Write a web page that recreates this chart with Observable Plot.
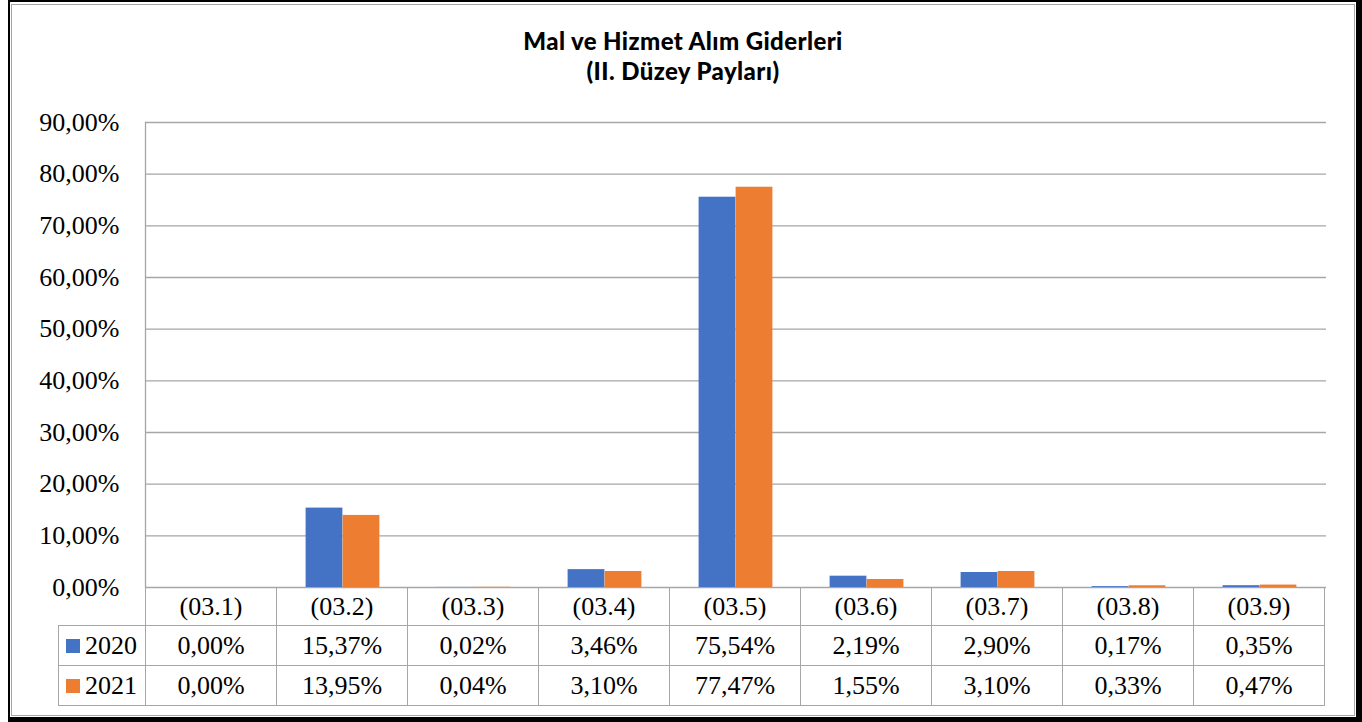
<!DOCTYPE html>
<html>
<head>
<meta charset="utf-8">
<script src="https://cdn.jsdelivr.net/npm/d3@7"></script>
<script src="https://cdn.jsdelivr.net/npm/@observablehq/plot@0.6"></script>
<style>
  html, body { margin: 0; padding: 0; background: #fff; }
  #wrap { position: relative; width: 1362px; height: 722px; overflow: hidden; background: #fff; }
  #outer { position: absolute; left: 8px; top: 0; box-sizing: border-box; width: 1354px; height: 722px;
           border-left: 2px solid #000; border-top: 2px solid #000; border-right: 6px solid #000; border-bottom: 5px solid #000; }
  #inner { position: absolute; left: 11px; top: 4px; width: 1344px; height: 712px; box-sizing: border-box; border: 1.5px solid #a6a6a6; }
  #title { position: absolute; left: 11px; width: 1344px; top: 26px; text-align: center;
           font-family: Lato, sans-serif; font-weight: 900; font-size: 24px; letter-spacing: 0.4px; line-height: 30px; color: #000; }
  #chart { position: absolute; left: 0; top: 0; }
  #tbl { position: absolute; border-collapse: collapse; font-family: 'Liberation Serif', 'Times New Roman'; font-size: 26px; color: #000; }
  #tbl td { border: 1.5px solid #a6a6a6; text-align: center; padding: 0; box-sizing: border-box; font-family: 'Liberation Serif', 'Times New Roman'; }
  #tbl td.blank { border: none; border-right: 1.5px solid #a6a6a6; }
  #tbl td.leg { text-align: left; padding-left: 7px; white-space: nowrap; }
  .sw { display: inline-block; width: 14px; height: 14px; margin-right: 5px; vertical-align: 1px; }
</style>
</head>
<body>
<div id="wrap">
  <div id="outer"></div>
  <div id="inner"></div>
  <div id="title">Mal ve Hizmet Alım Giderleri<br>(II. Düzey Payları)</div>
  <div id="chart"></div>
  <table id="tbl"></table>
</div>
<script>
const categories = ["(03.1)", "(03.2)", "(03.3)", "(03.4)", "(03.5)", "(03.6)", "(03.7)", "(03.8)", "(03.9)"];
const values2020 = [0.00, 15.37, 0.02, 3.46, 75.54, 2.19, 2.90, 0.17, 0.35];
const values2021 = [0.00, 13.95, 0.04, 3.10, 77.47, 1.55, 3.10, 0.33, 0.47];
const years = ["2020", "2021"];
const colors = ["#4472C4", "#ED7D31"];
const yTicks = [0, 10, 20, 30, 40, 50, 60, 70, 80, 90];

const fmt = d => d.toFixed(2).replace(".", ",") + "%";

const data2020 = categories.map((c, i) => ({cat: c, year: years[0], v: values2020[i]}));
const data2021 = categories.map((c, i) => ({cat: c, year: years[1], v: values2021[i]}));

const W = 1362, H = 722, mL = 145, mR = 36, mT = 122, mB = 135;
const bw = (W - mL - mR) / categories.length;
const barW = 37;
const gap = bw / 2 - barW;
const serif = "'Liberation Serif', 'Times New Roman'";

const chart = Plot.plot({
  width: W, height: H,
  marginLeft: mL, marginRight: mR, marginTop: mT, marginBottom: mB,
  style: {background: "transparent", fontFamily: serif, fontSize: "26px", color: "#000"},
  x: {domain: categories, padding: 0, axis: null},
  y: {domain: [0, 90], axis: null},
  marks: [
    Plot.ruleY(yTicks, {stroke: "#a6a6a6", strokeWidth: 1.3}),
    Plot.frame({anchor: "left", stroke: "#a6a6a6", strokeWidth: 1.3}),
    Plot.barY(data2020, {x: "cat", y: "v", fill: colors[0], insetLeft: gap, insetRight: bw / 2}),
    Plot.barY(data2021, {x: "cat", y: "v", fill: colors[1], insetLeft: bw / 2, insetRight: gap}),
    Plot.axisY({ticks: yTicks, tickFormat: fmt, tickSize: 0, tickPadding: 26, fontSize: 26,
                fontFamily: serif, fill: "#000", label: null})
  ]
});
document.getElementById("chart").appendChild(chart);

// Data table aligned to the chart's x scale
const xs = chart.scale("x");
const colW = xs.bandwidth;
const legW = 87;
const tbl = document.getElementById("tbl");
tbl.style.left = (mL - legW) + "px";
tbl.style.top = (H - mB) + "px";
tbl.style.width = (legW + colW * categories.length) + "px";
tbl.style.tableLayout = "fixed";

const cg = document.createElement("colgroup");
[legW, ...categories.map(() => colW)].forEach(w => {
  const c = document.createElement("col"); c.style.width = w + "px"; cg.appendChild(c);
});
tbl.appendChild(cg);

const hr = tbl.insertRow();
hr.style.height = "38px";
const blank = hr.insertCell(); blank.className = "blank";
categories.forEach(c => { const td = hr.insertCell(); td.textContent = c; });

[values2020, values2021].forEach((vals, k) => {
  const r = tbl.insertRow();
  r.style.height = "40px";
  const lg = r.insertCell(); lg.className = "leg";
  const sw = document.createElement("span"); sw.className = "sw"; sw.style.background = colors[k];
  lg.appendChild(sw); lg.appendChild(document.createTextNode(years[k]));
  vals.forEach(v => { const td = r.insertCell(); td.textContent = fmt(v); });
});
</script>
</body>
</html>
